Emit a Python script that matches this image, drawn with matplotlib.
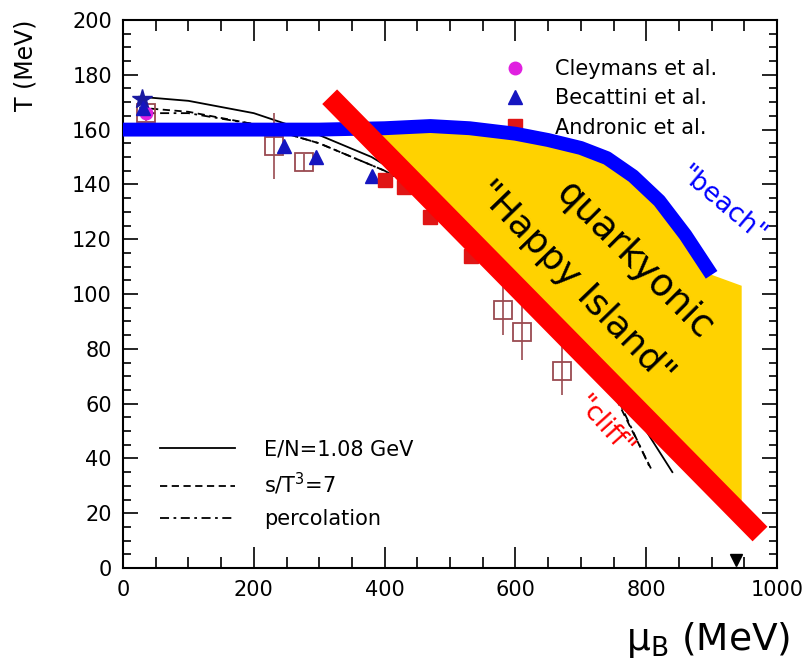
import numpy as np
import matplotlib
matplotlib.use("Agg")
from matplotlib import pyplot as plt
from matplotlib.ticker import MultipleLocator

# freeze-out points (mu_B in MeV, T in MeV)
cleymans_mu = [35]
cleymans_T = [166]

becattini_mu = [30, 246, 295, 381]
becattini_T = [168, 154, 150, 143]

becattini_star_mu = [29]
becattini_star_T = [171]

andronic_mu = [400, 430, 470, 532]
andronic_T = [141.5, 139, 128, 114]

open_sq_mu = [35, 231, 277, 581, 610, 671]
open_sq_T = [166, 154, 148, 94, 86, 72]
open_sq_err = [3, 12, 3, 9, 10, 9]

nuclear_mu = [938]
nuclear_T = [3]

# model curves
en_mu = [25, 100, 200, 300, 380, 450, 550, 650, 750, 800, 840]
en_T = [172, 170.5, 166, 158, 150, 140, 122, 100, 68, 50, 35]

st3_mu = [25, 100, 200, 300, 400, 500, 600, 700, 760, 810]
st3_T = [168, 166.5, 162, 155, 145, 132, 113, 85, 59, 35]

perc_mu = [25, 100, 200, 300, 400, 500, 600, 700, 760, 805]
perc_T = [166, 166, 162, 155, 145, 131, 112, 84, 60, 37]

# the "beach" (blue), the "cliff" (red) and the island edge
beach_mu = [0, 100, 200, 300, 400, 470, 530, 600, 650, 700, 740, 780, 820, 860, 900]
beach_T = [160, 160, 160, 160, 160.5, 161.3, 160.5, 158.5, 156.2, 153.3, 149.6, 143, 134, 121.5, 107]

cliff_mu = [316, 974]
cliff_T = [172, 12.4]

island_edge_mu = 946
island_edge_T = 103

fig = plt.figure(figsize=(8.11, 6.62), dpi=100)
ax = fig.add_axes([123/811, 1-568/662, 654/811, 548/662])

# theory lines
l1 = ax.plot(en_mu, en_T, color="black", lw=1.3, ls="-", label="E/N=1.08 GeV", zorder=2)[0]
l2 = ax.plot(st3_mu, st3_T, color="black", lw=1.3, ls=(0, (4, 2.5)), label="s/T$^3$=7", zorder=2)[0]
l3 = ax.plot(perc_mu, perc_T, color="black", lw=1.3, ls=(0, (5, 2.5, 1.5, 2.5)),
             label="percolation", zorder=2)[0]

# data
sq_col = "#9a4a50"
ax.errorbar(open_sq_mu, open_sq_T, yerr=open_sq_err, fmt="s", ms=13, mfc="none",
            mec=sq_col, mew=1.3, ecolor=sq_col, elinewidth=1.2, capsize=0, zorder=2)
ax.plot(becattini_star_mu, becattini_star_T, "*", color="#1a1aa0", ms=15, zorder=3)
c = ax.plot(cleymans_mu, cleymans_T, "o", color="#e020e0", ms=9, ls="none",
            label="Cleymans et al.", zorder=2)[0]
b = ax.plot(becattini_mu, becattini_T, "^", color="#1515c0", ms=10, ls="none",
            label="Becattini et al.", zorder=3)[0]
a = ax.plot(andronic_mu, andronic_T, "s", color="#e01515", ms=10, ls="none",
            label="Andronic et al.", zorder=3)[0]
ax.plot(nuclear_mu, nuclear_T, "v", color="black", ms=8, zorder=3)

# island: under the beach, above the cliff, cut at the right edge
top_mu = np.array(beach_mu, dtype=float)
top_T = np.array(beach_T, dtype=float)
cliff_at = lambda m: np.interp(m, cliff_mu, cliff_T)
grid = np.linspace(cliff_mu[0], beach_mu[-1], 400)
diff = np.interp(grid, top_mu, top_T) - cliff_at(grid)
start_mu = grid[np.argmax(diff > 0)]
sel = top_mu > start_mu
poly_mu = np.concatenate([[start_mu], top_mu[sel], [island_edge_mu, island_edge_mu]])
poly_T = np.concatenate([[np.interp(start_mu, top_mu, top_T)], top_T[sel],
                         [island_edge_T, cliff_at(island_edge_mu)]])
ax.fill(poly_mu, poly_T, color="#ffd200", lw=0, zorder=4)

ax.plot(beach_mu, beach_T, color="#0000ff", lw=10, solid_capstyle="butt", zorder=5)
ax.plot(cliff_mu, cliff_T, color="#ff0000", lw=15, solid_capstyle="butt", zorder=6)

ax.text(782, 112, "quarkyonic", fontsize=27, rotation=-45, ha="center", va="center",
        rotation_mode="anchor", zorder=7)
ax.text(692, 104, "\"Happy Island\"", fontsize=26, rotation=-46, ha="center", va="center",
        rotation_mode="anchor", zorder=7)
ax.text(916, 132.5, "\"beach\"", fontsize=19, rotation=-40, color="#0000ff", ha="center",
        va="center", rotation_mode="anchor", zorder=7)
ax.text(736, 51.5, "\"cliff\"", fontsize=19, rotation=-48, color="#ff0000", ha="center",
        va="center", rotation_mode="anchor", zorder=7)

leg1 = ax.legend(handles=[c, b, a], loc="upper left", bbox_to_anchor=(0.584, 0.929),
                 frameon=False, fontsize=15, handlelength=1, handletextpad=1.42,
                 labelspacing=0.45, borderpad=0, borderaxespad=0)
leg1.set_zorder(1.5)
ax.add_artist(leg1)
leg2 = ax.legend(handles=[l1, l2, l3], loc="upper left", bbox_to_anchor=(0.057, 0.234),
                 frameon=False, fontsize=15, handlelength=3.6, handletextpad=1.4,
                 labelspacing=0.55, borderpad=0, borderaxespad=0)

ax.set_xlim(0, 1000)
ax.set_ylim(0, 200)
ax.xaxis.set_major_locator(MultipleLocator(200))
ax.xaxis.set_minor_locator(MultipleLocator(50))
ax.yaxis.set_major_locator(MultipleLocator(20))
ax.yaxis.set_minor_locator(MultipleLocator(5))
ax.tick_params(which="both", direction="in", top=True, right=True, width=1.2, labelsize=15)
ax.tick_params(axis="x", which="major", length=15, pad=9)
ax.tick_params(axis="x", which="minor", length=8)
ax.tick_params(axis="y", which="major", length=11, pad=8)
ax.tick_params(axis="y", which="minor", length=6)
for s in ax.spines.values():
    s.set_linewidth(1.5)

fig.text(25/811, 1-65/662, "T (MeV)", fontsize=17, rotation=90, ha="center", va="center")
fig.text(790/811, 1-640/662, "μ$_{\\rm B}$ (MeV)", fontsize=27, ha="right", va="center")

fig.savefig("out.png", dpi=100)
